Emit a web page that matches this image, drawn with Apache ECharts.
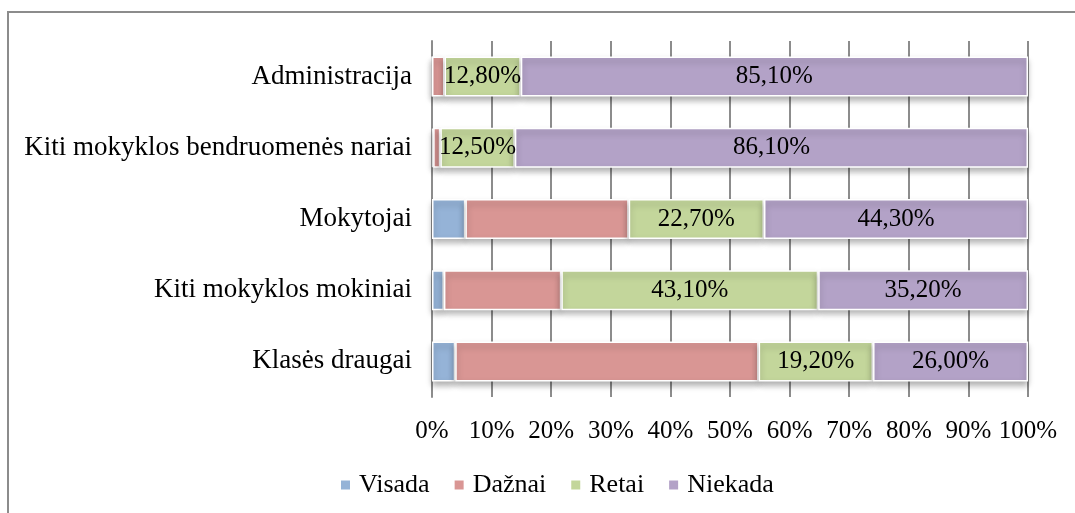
<!DOCTYPE html>
<html>
<head>
<meta charset="utf-8">
<script src="https://cdn.jsdelivr.net/npm/echarts@6/dist/echarts.min.js"></script>
<style>
    html, body { margin: 0; padding: 0; background: #fff; }
    #chart { width: 1075px; height: 513px; }
</style>
</head>
<body>
<div id="chart"></div>
<script>
// kategorijos (iš viršaus į apačią)
const categories = ['Administracija', 'Kiti mokyklos bendruomenės nariai', 'Mokytojai', 'Kiti mokyklos mokiniai', 'Klasės draugai']
const seriesNames = ['Visada', 'Dažnai', 'Retai', 'Niekada']
const visada = [0.0, 0.2, 5.6, 2.0, 3.9]
const daznai = [2.1, 1.2, 27.4, 19.7, 50.9]
const retai = [12.8, 12.5, 22.7, 43.1, 19.2]
const niekada = [85.1, 86.1, 44.3, 35.2, 26.0]
const colors = ['#95b3d7', '#d99694', '#c3d69b', '#b3a2c7']
const showLabel = [false, false, true, true]

const font = '"Liberation Serif", "Times New Roman", serif'

function initChart() {
    const myChart = echarts.init(document.querySelector('#chart'))
    const values = [visada, daznai, retai, niekada]
    const option = {
        animation: false,
        textStyle: { fontFamily: font },
        graphic: [{
            type: 'rect',
            shape: { x: 8, y: 12, width: 1100, height: 600 },
            style: { fill: 'none', stroke: '#8c8c8c', lineWidth: 2 },
            silent: true
        }],
        grid: { left: 432, right: 47, top: 41, bottom: 116 },
        xAxis: {
            type: 'value',
            min: 0,
            max: 100,
            interval: 10,
            axisLabel: {
                formatter: v => v + '%',
                color: '#000',
                fontSize: 25,
                fontFamily: font,
                margin: 22
            },
            axisLine: { show: false },
            axisTick: { show: false },
            splitLine: { lineStyle: { color: '#8c8c8c', width: 2 } }
        },
        yAxis: {
            type: 'category',
            inverse: true,
            data: categories,
            axisLabel: { color: '#000', fontSize: 27, fontFamily: font, margin: 20 },
            axisLine: { lineStyle: { color: '#8c8c8c', width: 2 } },
            axisTick: { show: false }
        },
        legend: {
            top: 467,
            left: 334,
            itemWidth: 11,
            itemHeight: 11,
            itemGap: 23,
            textStyle: { color: '#000', fontSize: 26, fontFamily: font, padding: [0, 0, 0, 3] },
            data: seriesNames.map((n, i) => ({ name: n, icon: 'rect', itemStyle: { color: colors[i] } }))
        },
        series: seriesNames.map((name, i) => ({
            name: name,
            type: 'bar',
            stack: 'total',
            barWidth: 40,
            data: values[i],
            itemStyle: {
                color: colors[i],
                borderColor: '#fff',
                borderWidth: 1.5,
                shadowColor: 'rgba(0,0,0,0.3)',
                shadowBlur: 6,
                shadowOffsetY: 4
            },
            label: {
                show: showLabel[i],
                position: 'inside',
                color: '#000',
                fontSize: 25,
                fontFamily: font,
                formatter: p => p.value.toFixed(2).replace('.', ',') + '%'
            }
        }))
    }
    myChart.setOption(option)
}

initChart()
</script>
</body>
</html>
